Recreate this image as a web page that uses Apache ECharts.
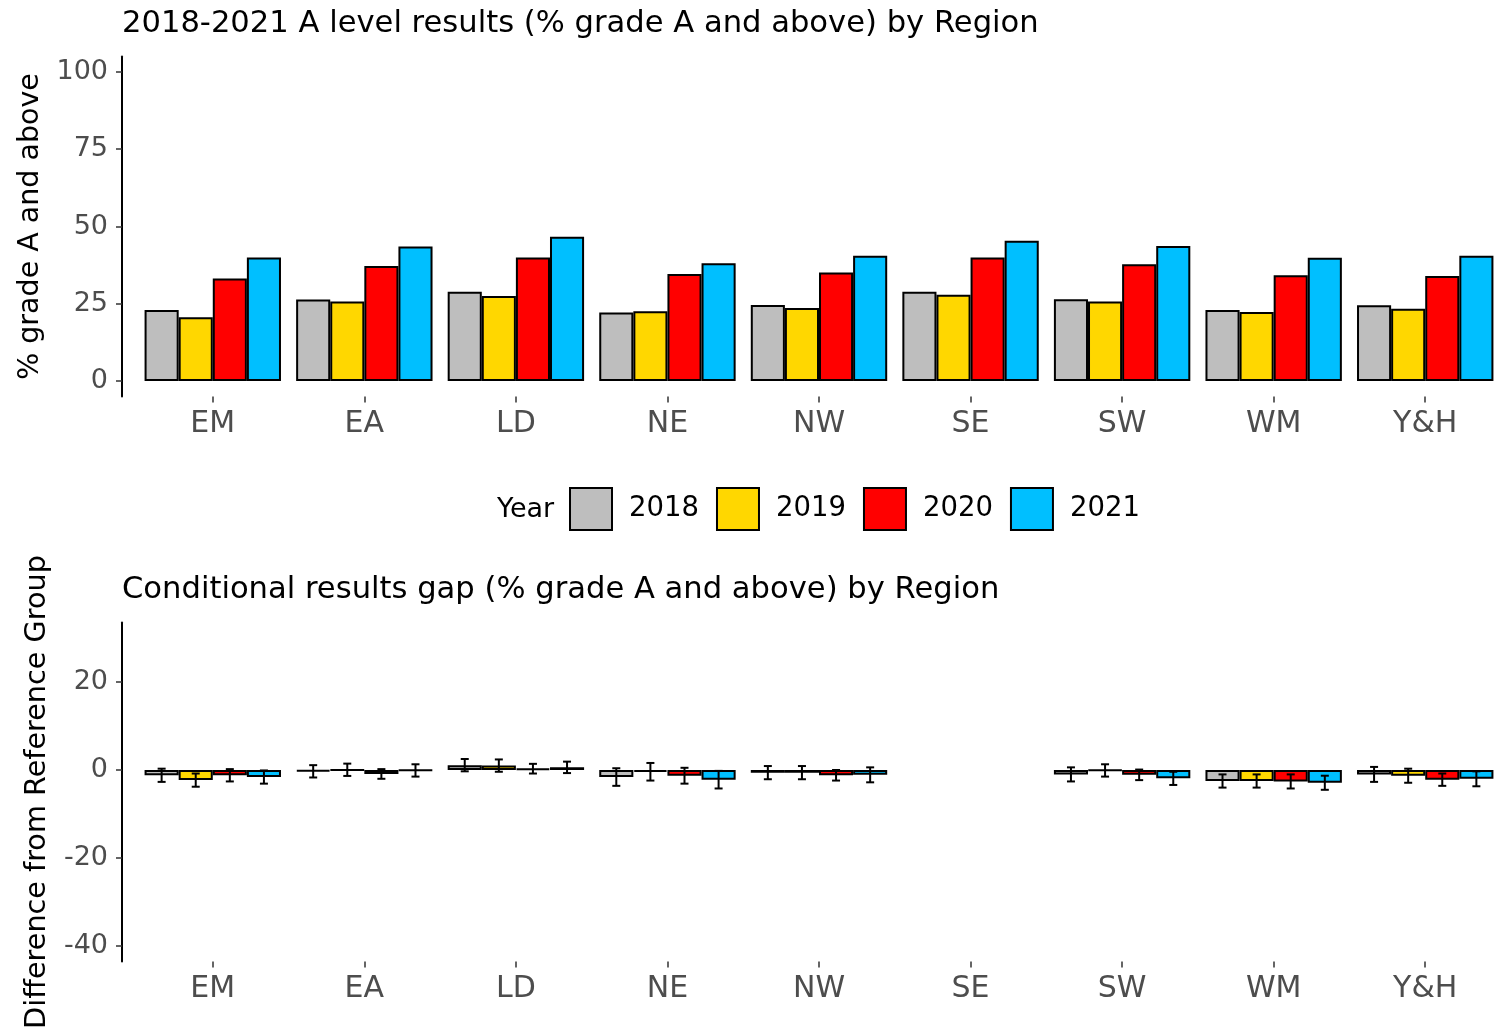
<!DOCTYPE html>
<html>
<head>
<meta charset="utf-8">
<script src="https://cdn.jsdelivr.net/npm/echarts@6/dist/echarts.min.js"></script>
<style>
  html, body { margin: 0; padding: 0; background: #fff; }
  #chart { width: 1497px; height: 1031px; }
</style>
</head>
<body>
<div id="chart"></div>
<script>
// categories and years
var regions = ['EM', 'EA', 'LD', 'NE', 'NW', 'SE', 'SW', 'WM', 'Y&H'];
var years = ['2018', '2019', '2020', '2021'];
var colors = ['#BEBEBE', '#FFD700', '#FF0000', '#00BFFF'];

// top panel: % grade A and above
var pct2018 = [23.0, 26.4, 28.9, 22.2, 24.6, 28.9, 26.5, 23.0, 24.5];
var pct2019 = [20.6, 25.7, 27.5, 22.6, 23.6, 27.9, 25.7, 22.3, 23.4];
var pct2020 = [33.2, 37.2, 40.0, 34.6, 35.1, 40.0, 37.8, 34.2, 34.0];
var pct2021 = [40.0, 43.5, 46.7, 38.1, 40.5, 45.4, 43.7, 39.9, 40.5];

// bottom panel: gap vs reference group (SE) and half-width of error bars
var gap2018 = [-1.2, -0.3, 1.1, -1.6, -0.6, null, -1.0, -2.5, -1.0];
var gap2019 = [-2.3, 0.05, 1.0, -0.4, -0.6, null, -0.1, -2.5, -1.3];
var gap2020 = [-1.2, -0.9, 0.3, -1.3, -1.2, null, -1.1, -2.6, -2.2];
var gap2021 = [-1.6, -0.1, 0.6, -2.2, -1.1, null, -1.9, -2.9, -2.0];
var ci2018 = [1.5, 1.4, 1.4, 2.0, 1.5, null, 1.6, 1.5, 1.7];
var ci2019 = [1.5, 1.4, 1.4, 2.0, 1.5, null, 1.4, 1.5, 1.6];
var ci2020 = [1.4, 1.1, 1.1, 1.8, 1.2, null, 1.2, 1.6, 1.4];
var ci2021 = [1.5, 1.4, 1.3, 2.0, 1.7, null, 1.5, 1.6, 1.7];

var topTicks = [0, 25, 50, 75, 100];
var bottomTicks = [-40, -20, 0, 20];

var pctSeries = [pct2018, pct2019, pct2020, pct2021];
var gapSeries = [gap2018, gap2019, gap2020, gap2021];
var ciSeries = [ci2018, ci2019, ci2020, ci2021];

var FONT = 'DejaVu Sans';
var chart = echarts.init(document.getElementById('chart'));

function xAxisFor(gridIndex) {
    return {
        type: 'category',
        gridIndex: gridIndex,
        data: regions,
        axisLine: { show: false, onZero: false },
        axisTick: { show: true, alignWithLabel: true, length: 6, lineStyle: { color: '#333', width: 1.5 } },
        axisLabel: { color: '#4D4D4D', fontSize: 30, fontFamily: FONT, margin: 13 },
        splitLine: { show: false }
    };
}

function yAxisFor(gridIndex, min, max, ticks, name, nameSize) {
    return {
        type: 'value',
        gridIndex: gridIndex,
        min: min,
        max: max,
        offset: 15,
        name: name,
        nameLocation: 'middle',
        nameGap: 70,
        nameTextStyle: { color: '#000', fontSize: nameSize, fontFamily: FONT },
        axisLine: { show: true, lineStyle: { color: '#000', width: 2 } },
        axisTick: { show: true, length: 6, customValues: ticks, lineStyle: { color: '#333', width: 1.5 } },
        axisLabel: { color: '#4D4D4D', fontSize: 27, fontFamily: FONT, margin: 14, customValues: ticks },
        splitLine: { show: false }
    };
}

// error bars, placed with the axis scale at each dodged bar centre
function errorRender(params, api) {
    var cat = api.value(0);
    var val = api.value(1);
    var ci = api.value(2);
    var s = api.value(3);
    if (val == null || isNaN(val)) return;
    var band = api.size([1, 0])[0];
    var barW = band * 0.9 / 4;
    var cx = api.coord([cat, 0])[0] + (s - 1.5) * barW;
    var yTop = api.coord([cat, val + ci])[1];
    var yBot = api.coord([cat, val - ci])[1];
    var cap = 4;
    var st = { stroke: '#000', lineWidth: 2 };
    return {
        type: 'group',
        children: [
            { type: 'line', shape: { x1: cx, y1: yTop, x2: cx, y2: yBot }, style: st },
            { type: 'line', shape: { x1: cx - cap, y1: yTop, x2: cx + cap, y2: yTop }, style: st },
            { type: 'line', shape: { x1: cx - cap, y1: yBot, x2: cx + cap, y2: yBot }, style: st }
        ]
    };
}

var series = [];
years.forEach(function (yr, i) {
    series.push({
        name: yr,
        type: 'bar',
        xAxisIndex: 0,
        yAxisIndex: 0,
        data: pctSeries[i],
        barGap: '0%',
        barCategoryGap: '10%',
        itemStyle: { color: colors[i], borderColor: '#000', borderWidth: 2 },
        emphasis: { disabled: true }
    });
});
years.forEach(function (yr, i) {
    series.push({
        name: yr,
        type: 'bar',
        xAxisIndex: 1,
        yAxisIndex: 1,
        data: gapSeries[i],
        barGap: '0%',
        barCategoryGap: '10%',
        itemStyle: { color: colors[i], borderColor: '#000', borderWidth: 2 },
        emphasis: { disabled: true }
    });
});
var errData = [];
gapSeries.forEach(function (arr, s) {
    arr.forEach(function (v, c) {
        if (v != null) errData.push([c, v, ciSeries[s][c], s]);
    });
});
series.push({
    type: 'custom',
    xAxisIndex: 1,
    yAxisIndex: 1,
    renderItem: errorRender,
    data: errData,
    z: 10,
    silent: true
});

var option = {
    animation: false,
    backgroundColor: '#fff',
    title: [
        {
            text: '2018-2021 A level results (% grade A and above) by Region',
            left: 117, top: 4,
            textStyle: { color: '#000', fontSize: 30.6, fontWeight: 'normal', fontFamily: FONT }
        },
        {
            text: 'Conditional results gap (% grade A and above) by Region',
            left: 117, top: 570,
            textStyle: { color: '#000', fontSize: 30.6, fontWeight: 'normal', fontFamily: FONT }
        },
        {
            text: 'Year',
            left: 492, top: 491,
            textStyle: { color: '#000', fontSize: 27, fontWeight: 'normal', fontFamily: FONT }
        }
    ],
    legend: {
        data: years,
        left: 564,
        top: 482,
        icon: 'rect',
        itemWidth: 42,
        itemHeight: 42,
        itemGap: 17,
        selectedMode: false,
        textStyle: { color: '#000', fontSize: 27.5, fontFamily: FONT, padding: [0, 0, 0, 12] }
    },
    grid: [
        { left: 137, top: 56.5, width: 1364, height: 340, outerBoundsMode: 'none' },
        { left: 137, top: 622.6, width: 1364, height: 338.8, outerBoundsMode: 'none' }
    ],
    xAxis: [xAxisFor(0), xAxisFor(1)],
    yAxis: [
        yAxisFor(0, -5, 105, topTicks, '% grade A and above', 28.5),
        yAxisFor(1, -43.5, 33.5, bottomTicks, 'Difference from Reference Group', 28.7)
    ],
    series: series
};

chart.setOption(option);
</script>
</body>
</html>
